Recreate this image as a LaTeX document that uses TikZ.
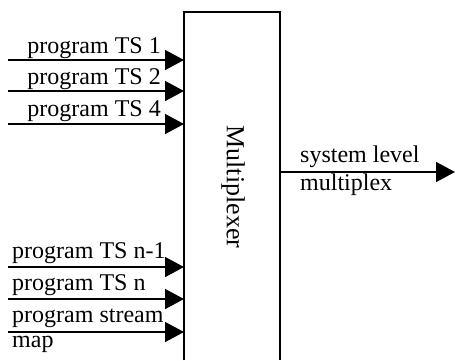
\documentclass[tikz,border=0pt]{standalone}
\usepackage{fontspec}
\setmainfont{Liberation Serif}
\usetikzlibrary{arrows.meta}
\tikzset{
  inarrow/.style={-{Triangle[length=19pt,width=20pt]}, line width=1.5pt},
  lbl/.style={inner sep=0pt, font=\fontsize{24}{28}\selectfont}
}
\begin{document}
\begin{tikzpicture}[x=1pt,y=-1pt]
	\useasboundingbox (0,0) rectangle (455,360);
	% multiplexer box, runs off the bottom
	\coordinate (mtl) at (184,12);
	\coordinate (mtr) at (280,12);
	\coordinate (mbl) at (184,360);
	\coordinate (mbr) at (280,360);
	\draw[line width=1.6pt] (mbl) -- (mtl) -- (mtr) -- (mbr);
	\node[lbl, font=\fontsize{26}{30}\selectfont, rotate=-90] (mux) at (233,187) {Multiplexer};
	
	% inputs
	\coordinate (in1) at (8,60);
	\coordinate (in2) at (8,91);
	\coordinate (in3) at (8,124);
	\coordinate (in4) at (8,267);
	\coordinate (in5) at (8,299);
	\coordinate (in6) at (8,332);
	\draw[inarrow] (in1) -- (in1 -| mtl);
	\draw[inarrow] (in2) -- (in2 -| mtl);
	\draw[inarrow] (in3) -- (in3 -| mtl);
	\draw[inarrow] (in4) -- (in4 -| mtl);
	\draw[inarrow] (in5) -- (in5 -| mtl);
	\draw[inarrow] (in6) -- (in6 -| mtl);
	\node[lbl, anchor=base east] (ts1) at (161,53) {program TS 1};
	\node[lbl, anchor=base east] (ts2) at (161,84) {program TS 2};
	\node[lbl, anchor=base east] (ts4) at (161,116) {program TS 4};
	\node[lbl, anchor=base west] (tsm) at (12,258) {program TS n-1};
	\node[lbl, anchor=base west] (tsn) at (12,290) {program TS n};
	\node[lbl, anchor=base west] (psm) at (12,322) {program stream};
	\node[lbl, anchor=base west] (map) at (12,347) {map};
	
	% output
	\coordinate (out) at (280,172);
	\coordinate (outend) at (455,172);
	\draw[inarrow] (out) -- (outend);
	\node[lbl, anchor=base west] (sys) at (300,162) {system level};
	\node[lbl, anchor=base west] (mpx) at (300,190) {multiplex};
\end{tikzpicture}
\end{document}
